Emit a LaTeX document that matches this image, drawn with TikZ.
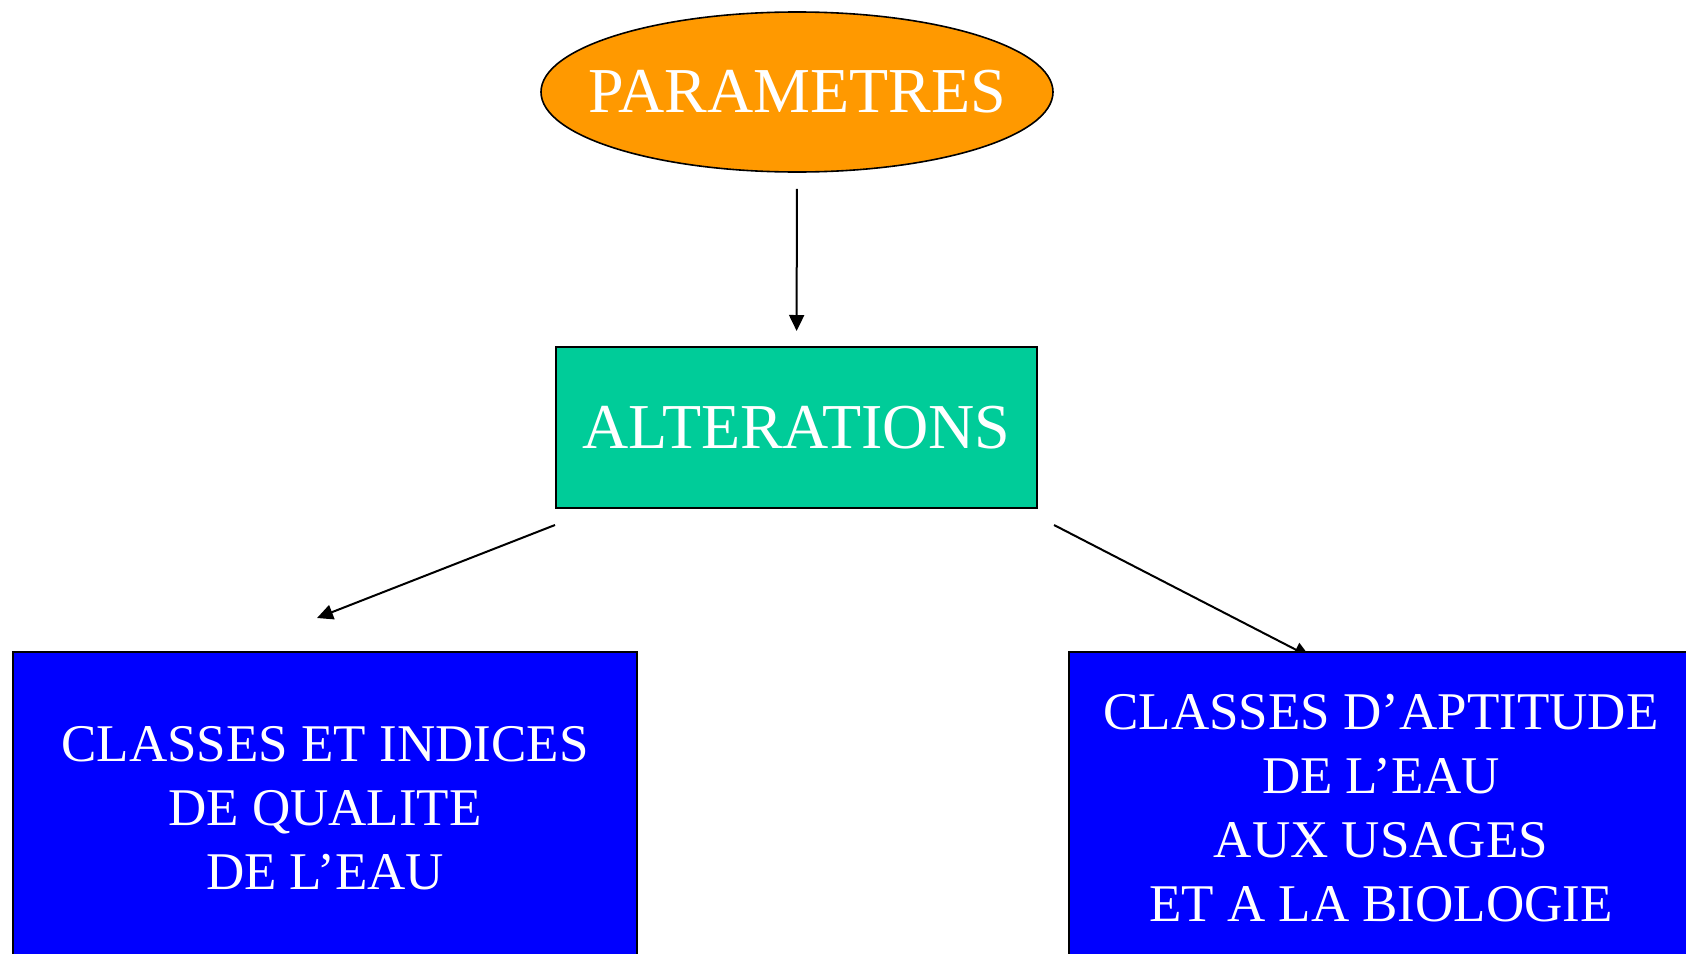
\documentclass[tikz,border=0pt]{standalone}
\usepackage{fontspec}
\setmainfont{Liberation Serif}
\usetikzlibrary{calc}
\usetikzlibrary{shapes.geometric}
\usetikzlibrary{arrows.meta}
\usetikzlibrary{backgrounds}
\definecolor{parorange}{HTML}{FF9900}
\definecolor{altgreen}{HTML}{00CC99}
\definecolor{clsblue}{HTML}{0000FF}
\newcommand*{\picw  }{1686}
\newcommand*{\pich  }{953}
\newcommand*{\clsw  }{312pt}
\newcommand*{\clsh  }{156pt}
\newcommand*{\bigfnt}{\fontsize{32}{38}\selectfont}
\newcommand*{\smlfnt}{\fontsize{26.5}{32}\selectfont}

\begin{document}
\begin{tikzpicture}[x=0.5pt, y=-0.5pt, line width=1pt, >={Triangle[length=8pt,width=7.5pt]},
        clsbox/.style={draw=black, fill=clsblue, text=white, minimum width=\clsw, minimum height=\clsh, inner sep=0pt, align=center, font=\smlfnt}]
    \useasboundingbox (0,0) rectangle (\picw,\pich);
    \clip (0,0) rectangle (\picw,\pich);
        \node [ellipse, draw=black, line width=0.8pt, fill=parorange, minimum width=256pt, minimum height=80pt, inner sep=0pt] (par) at (797,92) {};
        \node [text=white, font=\bigfnt] (partxt) at (par) {PARAMETRES};
        \node [rectangle, draw=black, fill=altgreen, text=white, minimum width=240.5pt, minimum height=80.5pt, inner sep=0pt, font=\bigfnt] (alt) at (796.5,427.5) {ALTERATIONS};
        \node [clsbox] (qual) at (325,808) {CLASSES ET INDICES\\DE QUALITE\\DE L’EAU};
        \node [clsbox] (apt)  at (1381,808) {CLASSES D’APTITUDE\\DE L’EAU\\AUX USAGES\\ET A LA BIOLOGIE};
        \coordinate (altsw) at ($(alt.south west)+(0,16)$);
        \coordinate (altse) at ($(alt.south east)+(16,16)$);
        \coordinate (qualn) at ($(qual.north)+(-8,-33)$);
        \coordinate (aptn)  at ($(apt.north)+(-71,6)$);
        \draw [->, shorten <=8pt, shorten >=7.5pt] (par) -- (alt);
        \draw [->] (altsw) -- (qualn);
        \begin{scope}[on background layer]
        \draw [->, line width=1pt] (altse) -- (aptn);
        \end{scope}
    \end{tikzpicture}
\end{document}
